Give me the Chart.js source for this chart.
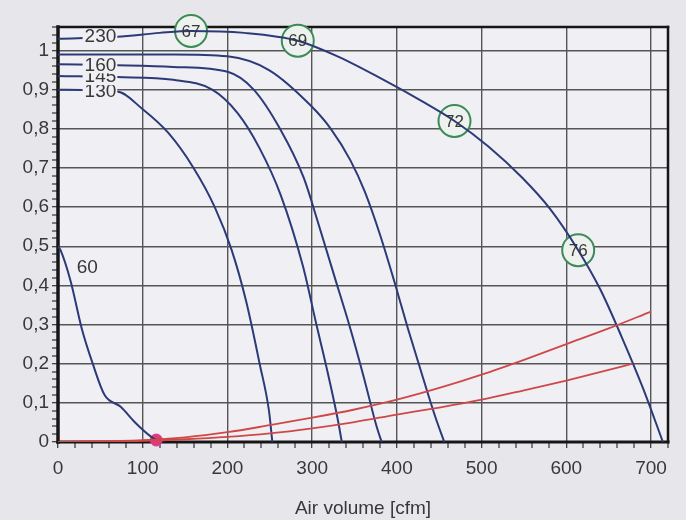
<!DOCTYPE html>
<html>
<head>
<meta charset="utf-8">
<script src="https://cdn.jsdelivr.net/npm/chart.js@4/dist/chart.umd.min.js"></script>
<style>
  html, body { margin: 0; padding: 0; background: #e7e6ea; }
  #wrap { width: 686px; height: 520px; }
</style>
</head>
<body>
<div id="wrap"><canvas id="fanChart" width="686" height="520"></canvas></div>
<script>
// Fan performance curves: static pressure against air volume
const xTickLabels = ['0', '100', '200', '300', '400', '500', '600', '700'];
const yTickLabels = ['0', '0,1', '0,2', '0,3', '0,4', '0,5', '0,6', '0,7', '0,8', '0,9', '1'];

// speed curves (air volume in cfm, pressure)
const fan230X = [0, 70, 120, 157, 220, 283, 330, 380, 430, 468, 508, 548, 581, 614, 640, 665, 690, 714];
const fan230Y = [1.03, 1.035, 1.045, 1.05, 1.045, 1.025, 0.985, 0.93, 0.87, 0.82, 0.755, 0.675, 0.595, 0.49, 0.39, 0.27, 0.14, 0];

const fanTopX = [0, 70, 136, 200, 249, 298, 322, 345, 362, 380, 397, 413, 430, 446, 456];
const fanTopY = [0.99, 0.99, 0.99, 0.985, 0.95, 0.86, 0.80, 0.72, 0.64, 0.53, 0.41, 0.29, 0.17, 0.06, 0];

const fan160X = [0, 70, 136, 201, 231, 262, 290, 307, 326, 345, 361, 376, 382];
const fan160Y = [0.965, 0.962, 0.958, 0.945, 0.90, 0.80, 0.675, 0.56, 0.425, 0.29, 0.165, 0.04, 0];

const fan145X = [0, 70, 136, 182, 212, 238, 263, 289, 305, 317, 330, 335];
const fan145Y = [0.935, 0.932, 0.925, 0.90, 0.84, 0.75, 0.63, 0.45, 0.30, 0.19, 0.06, 0];

const fan130X = [0, 70, 100, 130, 160, 185, 205, 222, 238, 249, 253];
const fan130Y = [0.9, 0.895, 0.85, 0.79, 0.70, 0.60, 0.49, 0.36, 0.20, 0.08, 0];

const fan60X = [0, 3, 15, 28, 41, 55, 74, 91, 109, 116];
const fan60Y = [0.5, 0.49, 0.41, 0.29, 0.2, 0.12, 0.09, 0.05, 0.015, 0.005];

// system resistance curves
const systemHighX = [0, 100, 150, 200, 250, 300, 350, 400, 450, 500, 550, 600, 650, 700];
const systemHighY = [0, 0.005, 0.012, 0.025, 0.043, 0.062, 0.083, 0.108, 0.138, 0.172, 0.21, 0.25, 0.29, 0.333];
const systemLowX = [0, 100, 150, 200, 250, 300, 350, 400, 450, 500, 550, 600, 650, 678];
const systemLowY = [0, 0.003, 0.007, 0.013, 0.022, 0.035, 0.051, 0.07, 0.088, 0.108, 0.132, 0.157, 0.184, 0.2];

// operating point of the 60 curve
const operatingX = [116];
const operatingY = [0.005];

// noise levels marked along the 230 curve
const noiseX = [157, 283, 468, 614];
const noiseY = [1.05, 1.025, 0.82, 0.49];
const noiseLabels = ['67', '69', '72', '76'];

const curveLabels = ['230', '160', '145', '130', '60'];

const PLOT_BG = '#f0f0f4';
const PAGE_BG = '#e7e6ea';
const CURVE = '#2c3a78';
const RED = '#cf4848';
const GRID = '#555555';
const TEXT = '#383838';
const FONT = '"Liberation Sans", Arial, sans-serif';

function pts(xs, ys) { return xs.map((x, i) => ({ x: x, y: ys[i] })); }

function curve(xs, ys, color, width) {
  return {
    type: 'line', data: pts(xs, ys), borderColor: color, borderWidth: width,
    pointRadius: 0, fill: false, cubicInterpolationMode: 'monotone'
  };
}

const datasets = [
  curve(systemHighX, systemHighY, RED, 1.8),
  curve(systemLowX, systemLowY, RED, 1.8),
  curve(fan230X, fan230Y, CURVE, 2),
  curve(fanTopX, fanTopY, CURVE, 2),
  curve(fan160X, fan160Y, CURVE, 2),
  curve(fan145X, fan145Y, CURVE, 2),
  curve(fan130X, fan130Y, CURVE, 2),
  curve(fan60X, fan60Y, CURVE, 2),
  {
    type: 'line', data: pts(operatingX, operatingY), showLine: false,
    pointRadius: 6, pointBackgroundColor: '#de3a82', pointBorderColor: '#de3a82', clip: false
  },
  {
    type: 'line', data: pts(noiseX, noiseY), showLine: false, clip: false,
    pointRadius: 16, pointHoverRadius: 16, pointBackgroundColor: '#eef2ef',
    pointBorderColor: '#3d8a58', pointBorderWidth: 2
  }
];
const NOISE_INDEX = datasets.length - 1;
// datasets whose start carries a speed label (drawn bottom-up so upper labels stay whole)
const labelledCurves = [
  { dataset: 6, label: 3 },
  { dataset: 5, label: 2 },
  { dataset: 4, label: 1 },
  { dataset: 2, label: 0 }
];

const backdrop = {
  id: 'backdrop',
  beforeDraw(chart) {
    const { ctx, chartArea: a } = chart;
    ctx.save();
    ctx.fillStyle = PAGE_BG;
    ctx.fillRect(0, 0, chart.width, chart.height);
    ctx.fillStyle = PLOT_BG;
    ctx.fillRect(a.left, a.top, a.right - a.left, a.bottom - a.top);
    ctx.restore();
  },
  beforeDatasetsDraw(chart) {
    const { ctx, chartArea: a } = chart;
    ctx.save();
    ctx.strokeStyle = '#161616';
    ctx.lineCap = 'square';
    ctx.lineWidth = 2.5;
    ctx.beginPath(); ctx.moveTo(a.left, a.top); ctx.lineTo(a.right, a.top); ctx.stroke();
    ctx.beginPath(); ctx.moveTo(a.right, a.top); ctx.lineTo(a.right, a.bottom); ctx.stroke();
    ctx.lineWidth = 3;
    ctx.beginPath(); ctx.moveTo(a.left, a.bottom); ctx.lineTo(a.right, a.bottom); ctx.stroke();
    ctx.lineWidth = 3.5;
    ctx.beginPath(); ctx.moveTo(a.left, a.top); ctx.lineTo(a.left, a.bottom); ctx.stroke();
    ctx.restore();
  },
  afterDatasetsDraw(chart) {
    const { ctx } = chart;
    ctx.save();
    ctx.font = '19px ' + FONT;
    ctx.textBaseline = 'middle';
    // speed labels sit at the start of each curve, over the line
    labelledCurves.forEach(item => {
      const p = chart.getDatasetMeta(item.dataset).data[1];
      const text = curveLabels[item.label];
      const w = ctx.measureText(text).width;
      const right = p.x - 1;
      ctx.fillStyle = PLOT_BG;
      ctx.fillRect(right - w - 2, p.y - 8, w + 3, 16);
      ctx.fillStyle = TEXT;
      ctx.textAlign = 'right';
      ctx.fillText(text, right, p.y);
    });
    // the 60 label sits just right of where its curve leaves the axis
    const p60 = chart.getDatasetMeta(7).data[2];
    ctx.fillStyle = TEXT;
    ctx.textAlign = 'left';
    ctx.fillText(curveLabels[4], p60.x + 6, p60.y - 14);
    // noise levels inside the circles
    ctx.font = '17px ' + FONT;
    ctx.textAlign = 'center';
    chart.getDatasetMeta(NOISE_INDEX).data.forEach((pt, i) => {
      ctx.fillText(noiseLabels[i], pt.x, pt.y + 1);
    });
    ctx.restore();
  }
};

new Chart(document.getElementById('fanChart'), {
  data: { datasets: datasets },
  plugins: [backdrop],
  options: {
    responsive: false,
    devicePixelRatio: 1,
    animation: false,
    layout: { padding: { top: 27, right: 12, left: 0, bottom: 0 } },
    plugins: { legend: { display: false }, tooltip: { enabled: false } },
    scales: {
      x: {
        type: 'linear', min: 0, max: 720,
        afterFit(scale) { scale.height = 78; },
        border: { display: false },
        grid: {
          color: ctx => (Math.round(ctx.tick.value) % 100 === 0 ? GRID : 'rgba(0,0,0,0)'),
          lineWidth: ctx => (Math.round(ctx.tick.value) % 100 === 0 ? 1.4 : 0),
          tickColor: '#333333', tickLength: 6, tickWidth: 1.2
        },
        ticks: {
          stepSize: 20, autoSkip: false, maxRotation: 0, padding: 9,
          color: TEXT, font: { family: FONT, size: 19 },
          callback: v => {
            const r = Math.round(v);
            return r % 100 === 0 && r / 100 < xTickLabels.length ? xTickLabels[r / 100] : '';
          }
        },
        title: {
          display: true, text: 'Air volume [cfm]', color: TEXT,
          font: { family: FONT, size: 19 }, padding: { top: 0, bottom: 0 }
        }
      },
      y: {
        type: 'linear', min: 0, max: 1.06,
        afterFit(scale) { scale.width = 58; },
        border: { display: false },
        grid: {
          color: ctx => {
            const s = Math.round(ctx.tick.value * 50);
            return s % 5 === 0 && s <= 50 ? GRID : 'rgba(0,0,0,0)';
          },
          lineWidth: ctx => {
            const s = Math.round(ctx.tick.value * 50);
            return s % 5 === 0 && s <= 50 ? 1.4 : 0;
          },
          tickColor: '#333333', tickLength: 6, tickWidth: 1.2
        },
        ticks: {
          stepSize: 0.02, autoSkip: false, padding: 3,
          color: TEXT, font: { family: FONT, size: 19 },
          callback: v => {
            const s = Math.round(v * 50);
            return s % 5 === 0 && s <= 50 ? yTickLabels[s / 5] : '';
          }
        }
      }
    }
  }
});
</script>
</body>
</html>
